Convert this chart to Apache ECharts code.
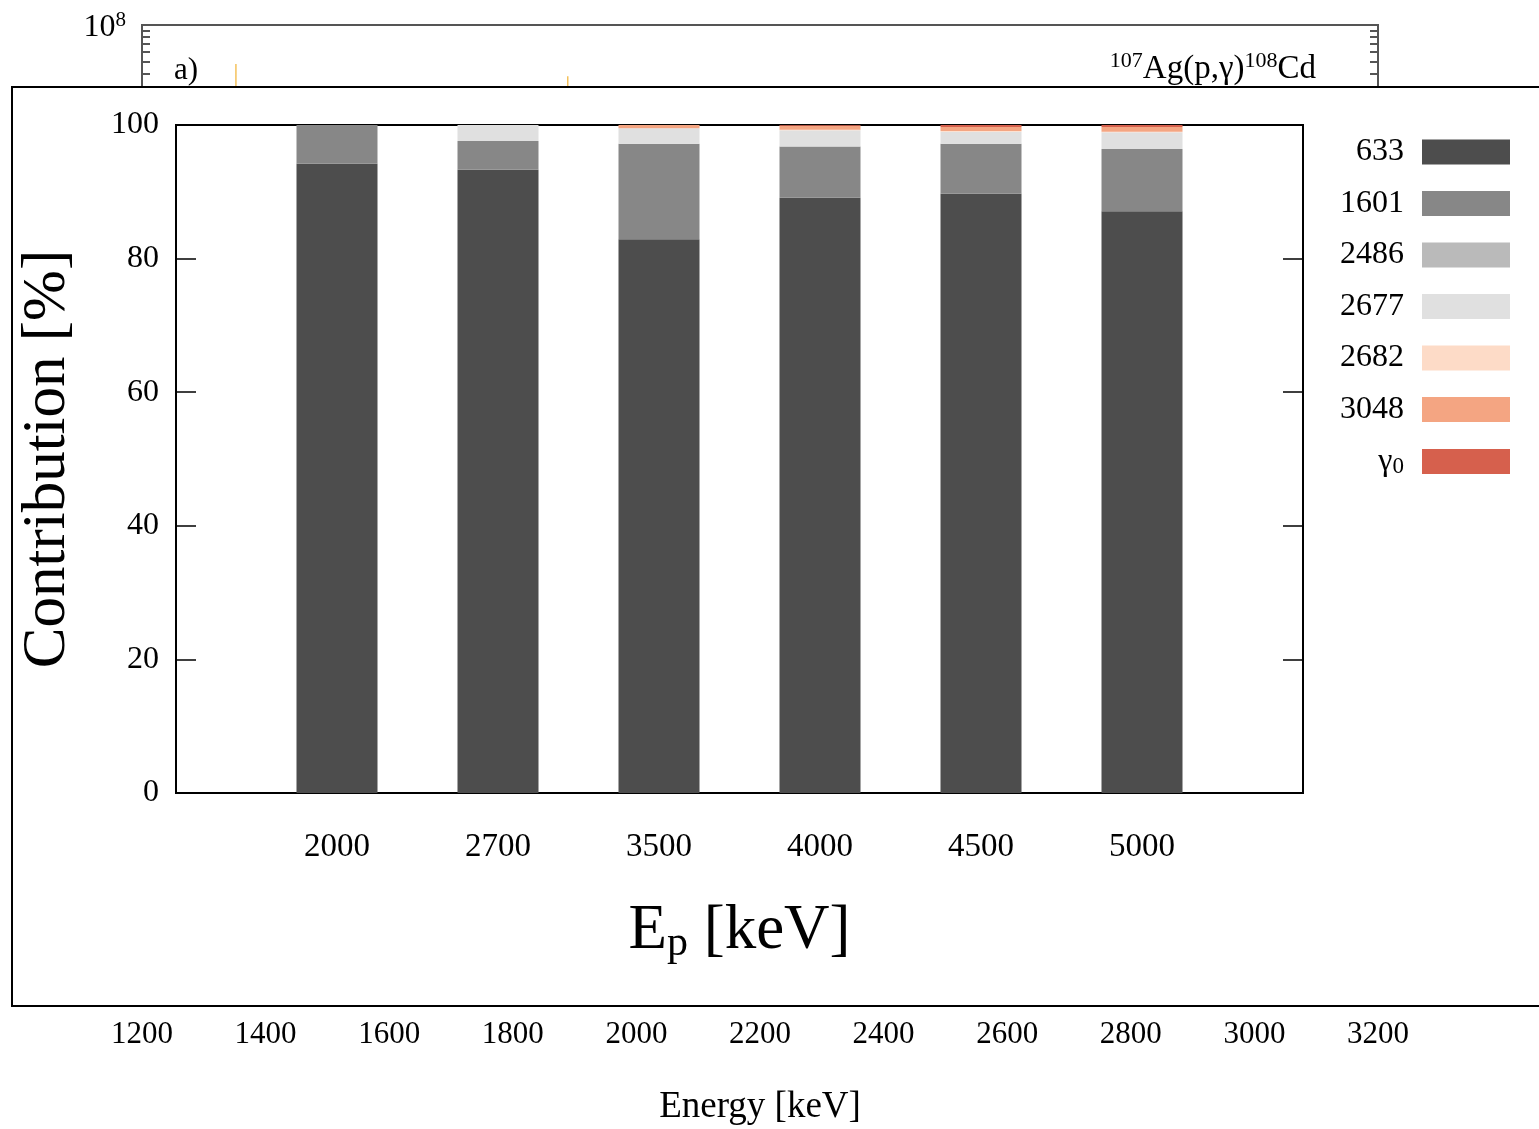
<!DOCTYPE html>
<html>
<head>
<meta charset="utf-8">
<script src="https://cdn.jsdelivr.net/npm/echarts@6/dist/echarts.min.js"></script>
<style>
  html, body { margin: 0; background: #fff; }
  #chart { width: 1539px; height: 1129px; }
</style>
</head>
<body>
<div id="chart"></div>
<script>
// background spectrum, almost all of it hidden behind the inset
var specEnergy = [1352, 1352, 1352, 1889, 1889, 1889];
var specCounts = [1, 4.8e7, 1, 1, 3.8e7, 1];
var countTicks = [1e7, 2e7, 3e7, 4e7, 5e7, 6e7, 7e7, 8e7, 9e7, 1e8];
var countLabels = [1e8];

// inset: contribution of each transition [%]
var beams = ['', '2000', '2700', '3500', '4000', '4500', '5000', ''];
var lines = ['633', '1601', '2486', '2677', '2682', '3048', 'γ0'];
var c633  = ['-', 94.2, 93.3, 82.9, 89.1, 89.7, 87.1, '-'];
var c1601 = ['-', 5.8, 4.3, 14.3, 7.7, 7.5, 9.3, '-'];
var c2486 = ['-', 0, 0, 0, 0, 0, 0, '-'];
var c2677 = ['-', 0, 2.4, 2.3, 2.4, 1.8, 2.5, '-'];
var c2682 = ['-', 0, 0, 0, 0.1, 0.1, 0.1, '-'];
var c3048 = ['-', 0, 0, 0.5, 0.6, 0.6, 0.7, '-'];
var cG0   = ['-', 0, 0, 0, 0.1, 0.3, 0.3, '-'];
var contrib = [c633, c1601, c2486, c2677, c2682, c3048, cG0];
var colors = ['#4d4d4d', '#878787', '#bababa', '#e0e0e0', '#fddbc7', '#f4a582', '#d6604d'];

var serif = 'Liberation Serif';
var chart = echarts.init(document.getElementById('chart'));

var spec = specEnergy.map(function (e, i) { return [e, specCounts[i]]; });

var barSeries = lines.map(function (name, i) {
  return {
    name: name,
    type: 'bar',
    stack: 'all',
    xAxisIndex: 1,
    yAxisIndex: 2,
    barWidth: 81,
    z: 60,
    itemStyle: { color: colors[i] },
    data: contrib[i]
  };
});

chart.setOption({
  animation: false,
  textStyle: { fontFamily: serif },
  title: {
    text: '{s|107}{t|Ag(p,γ)}{s|108}{t|Cd}',
    right: 218,
    top: 45,
    textStyle: {
      fontWeight: 'normal',
      rich: {
        t: { fontFamily: serif, fontSize: 33, fontWeight: 'normal', color: '#000', lineHeight: 38 },
        s: { fontFamily: serif, fontSize: 22, fontWeight: 'normal', color: '#000', lineHeight: 38, padding: [0, 0, 15, 0] }
      }
    }
  },
  legend: {
    orient: 'vertical',
    left: 1320,
    top: 131,
    align: 'right',
    itemWidth: 88,
    itemHeight: 25,
    itemGap: 19.5,
    z: 60,
    icon: 'rect',
    data: lines,
    formatter: function (n) { return n === 'γ0' ? '{g|γ}{sb|0}' : n; },
    textStyle: {
      fontFamily: serif, fontSize: 32, color: '#000', width: 79, align: 'right',
      lineHeight: 30, padding: [0, 13, 0, 0],
      rich: {
        g: { fontFamily: serif, fontSize: 32, color: '#000', lineHeight: 30 },
        sb: { fontFamily: serif, fontSize: 23, color: '#000', lineHeight: 30, padding: [10, 0, 0, 0] }
      }
    }
  },
  graphic: [
    {
      type: 'rect', z: 50,
      shape: { x: 12, y: 87, width: 1560, height: 919 },
      style: { fill: '#fff', stroke: '#000', lineWidth: 2 }
    },
    {
      type: 'text', z: 5, left: 174, top: 55,
      style: { text: 'a)', font: '31px "Liberation Serif"', fill: '#000' }
    }
  ],
  grid: [
    { left: 142, top: 25, width: 1236, height: 977, outerBoundsMode: 'none', show: true, borderColor: '#555', borderWidth: 2 },
    { left: 176, top: 125, width: 1127, height: 668, outerBoundsMode: 'none', show: true, borderColor: '#000', borderWidth: 2, z: 60 }
  ],
  xAxis: [
    {
      gridIndex: 0, type: 'value', min: 1200, max: 3200, interval: 200,
      name: 'Energy [keV]', nameLocation: 'middle', nameGap: 87,
      nameTextStyle: { fontFamily: serif, fontSize: 37, color: '#000' },
      axisLine: { show: false },
      axisTick: { show: false },
      splitLine: { show: false },
      axisLabel: {
        fontFamily: serif, fontSize: 31, color: '#000', margin: 17,
        formatter: function (v) { return String(v); }
      }
    },
    {
      gridIndex: 1, type: 'category', data: beams, boundaryGap: false, z: 60,
      name: '{e|E}{p|p}{e| [keV]}', nameLocation: 'middle', nameGap: 103,
      nameTextStyle: {
        rich: {
          e: { fontFamily: serif, fontSize: 63, color: '#000', lineHeight: 70 },
          p: { fontFamily: serif, fontSize: 42, color: '#000', lineHeight: 70, padding: [26, 0, 0, 0] }
        }
      },
      axisLine: { show: false },
      axisTick: { show: false },
      axisLabel: { fontFamily: serif, fontSize: 33, color: '#000', margin: 38, interval: 0 }
    }
  ],
  yAxis: [
    {
      gridIndex: 0, type: 'log', min: 1, max: 1e8, position: 'left',
      axisLine: { show: false },
      splitLine: { show: false },
      minorTick: { show: false },
      axisTick: { show: true, inside: true, length: 8, customValues: countTicks, lineStyle: { color: '#555', width: 2 } },
      axisLabel: {
        customValues: countLabels, margin: 16,
        formatter: function (v) { return '{b|10}{s|' + Math.round(Math.log10(v)) + '}'; },
        rich: {
          b: { fontFamily: serif, fontSize: 32, color: '#000', lineHeight: 36, padding: [6, 0, 0, 0] },
          s: { fontFamily: serif, fontSize: 21, color: '#000', lineHeight: 36, padding: [0, 0, 10, 0] }
        }
      }
    },
    {
      gridIndex: 0, type: 'log', min: 1, max: 1e8, position: 'right',
      axisLine: { show: false },
      splitLine: { show: false },
      axisTick: { show: true, inside: true, length: 8, customValues: countTicks, lineStyle: { color: '#555', width: 2 } },
      axisLabel: { show: false }
    },
    {
      gridIndex: 1, type: 'value', min: 0, max: 100, interval: 20, position: 'left', z: 60,
      name: 'Contribution [%]', nameLocation: 'middle', nameGap: 98,
      nameTextStyle: { fontFamily: serif, fontSize: 61, color: '#000' },
      axisLine: { show: false },
      splitLine: { show: false },
      axisTick: { show: true, inside: true, length: 20, lineStyle: { color: '#000', width: 1.5 } },
      axisLabel: { fontFamily: serif, fontSize: 32, color: '#000', margin: 17 }
    },
    {
      gridIndex: 1, type: 'value', min: 0, max: 100, interval: 20, position: 'right', z: 60,
      axisLine: { show: false },
      splitLine: { show: false },
      axisTick: { show: true, inside: true, length: 20, lineStyle: { color: '#000', width: 1.5 } },
      axisLabel: { show: false }
    }
  ],
  series: [
    {
      type: 'line', xAxisIndex: 0, yAxisIndex: 0, z: 2,
      symbol: 'none', silent: true,
      lineStyle: { color: '#f2b233', width: 1.2 },
      data: spec
    }
  ].concat(barSeries)
});
</script>
</body>
</html>
